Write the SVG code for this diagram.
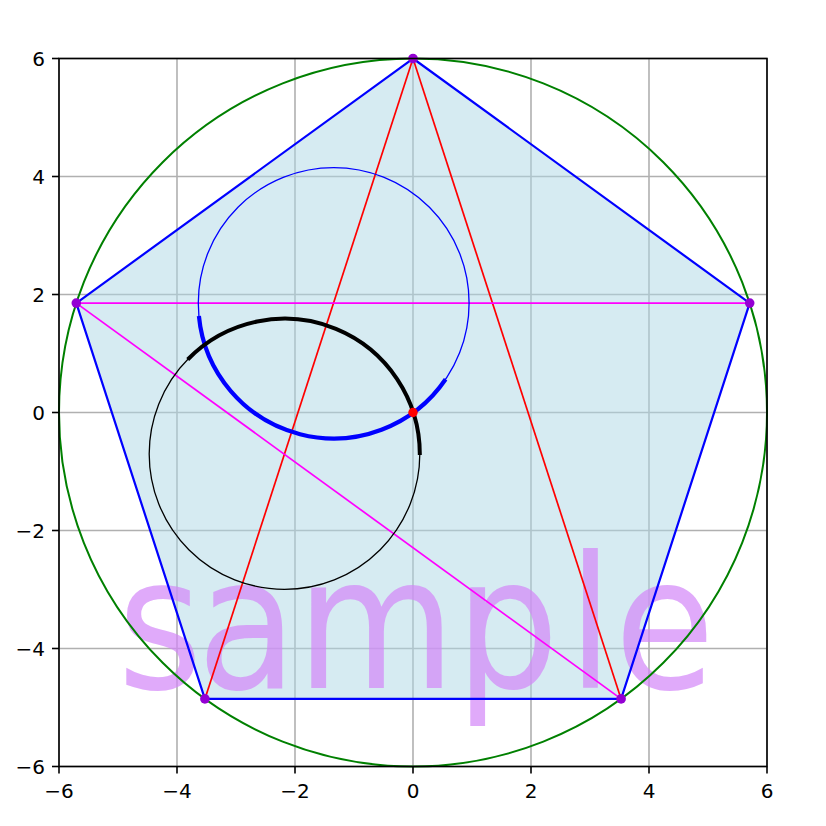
<svg xmlns="http://www.w3.org/2000/svg" width="826" height="826" viewBox="0 0 826 826">
<style>
.grid line{stroke:#b0b0b0;stroke-width:1.6}
.tick line{stroke:#000;stroke-width:1.6}
.lbl{font-family:"DejaVu Sans",sans-serif;font-size:20px;fill:#000}
.xl{text-anchor:middle}
.yl{text-anchor:end}
.dot{fill:#9400d3}
</style>
<rect x="0" y="0" width="826" height="826" fill="#fff"/>
<g id="grid" class="grid">
<line x1="59" y1="58.5" x2="59" y2="766.5"/>
<line x1="177" y1="58.5" x2="177" y2="766.5"/>
<line x1="295" y1="58.5" x2="295" y2="766.5"/>
<line x1="413" y1="58.5" x2="413" y2="766.5"/>
<line x1="531" y1="58.5" x2="531" y2="766.5"/>
<line x1="649" y1="58.5" x2="649" y2="766.5"/>
<line x1="767" y1="58.5" x2="767" y2="766.5"/>
<line x1="59" y1="58.5" x2="767" y2="58.5"/>
<line x1="59" y1="176.5" x2="767" y2="176.5"/>
<line x1="59" y1="294.5" x2="767" y2="294.5"/>
<line x1="59" y1="412.5" x2="767" y2="412.5"/>
<line x1="59" y1="530.5" x2="767" y2="530.5"/>
<line x1="59" y1="648.5" x2="767" y2="648.5"/>
<line x1="59" y1="766.5" x2="767" y2="766.5"/>
</g>
<g id="pentagon">
<polygon points="413,58.5 749.7,303.1 621.1,698.9 204.9,698.9 76.3,303.1" fill="#add8e6" fill-opacity="0.5" stroke="none"/>
</g>
<text id="watermark" transform="translate(0,687.5) scale(0.887,1)" x="132.5 222.1 334.3 513.5 640 692.8" y="0" font-family="DejaVu Sans, sans-serif" font-size="184" fill="#d386f8" fill-opacity="0.7">sample</text>
<g id="pentagon-edge">
<polygon points="413,58.5 749.7,303.1 621.1,698.9 204.9,698.9 76.3,303.1" fill="none" stroke="#0000ff" stroke-width="2.2" stroke-linejoin="miter"/>
</g>
<g id="circumcircle">
<circle cx="413" cy="412.5" r="354" fill="none" stroke="#008000" stroke-width="2"/>
</g>
<g id="connectors">
<line x1="413" y1="58.5" x2="204.9" y2="698.9" stroke="#ff0000" stroke-width="1.7"/>
<line x1="413" y1="58.5" x2="621.1" y2="698.9" stroke="#ff0000" stroke-width="1.7"/>
<line x1="76.3" y1="303.1" x2="749.7" y2="303.1" stroke="#ff00ff" stroke-width="1.7"/>
<line x1="76.3" y1="303.1" x2="621.1" y2="698.9" stroke="#ff00ff" stroke-width="1.7"/>
</g>
<g id="blue-circle">
<circle cx="333.7" cy="303" r="135.4" fill="none" stroke="#0000ff" stroke-width="1.3"/>
<path d="M198.9,316 A135.4,135.4 0 0 0 445.6,379.3" fill="none" stroke="#0000ff" stroke-width="4.2"/>
</g>
<g id="black-circle">
<circle cx="284.5" cy="454" r="135.3" fill="none" stroke="#000" stroke-width="1.3"/>
<path d="M187.7,359.5 A135.3,135.3 0 0 1 419.8,454.9" fill="none" stroke="#000" stroke-width="4"/>
</g>
<g id="vertices">
<circle class="dot" cx="413" cy="58.5" r="4.8"/>
<circle class="dot" cx="749.7" cy="303.1" r="4.8"/>
<circle class="dot" cx="621.1" cy="698.9" r="4.8"/>
<circle class="dot" cx="204.9" cy="698.9" r="4.8"/>
<circle class="dot" cx="76.3" cy="303.1" r="4.8"/>
</g>
<g id="origin">
<circle cx="413" cy="412.5" r="4.7" fill="#ff0000"/>
</g>
<g id="axes">
<rect x="59" y="58.5" width="708" height="708" fill="none" stroke="#000" stroke-width="1.6"/>
<g class="tick">
<line x1="59" y1="766.5" x2="59" y2="773.5"/>
<line x1="177" y1="766.5" x2="177" y2="773.5"/>
<line x1="295" y1="766.5" x2="295" y2="773.5"/>
<line x1="413" y1="766.5" x2="413" y2="773.5"/>
<line x1="531" y1="766.5" x2="531" y2="773.5"/>
<line x1="649" y1="766.5" x2="649" y2="773.5"/>
<line x1="767" y1="766.5" x2="767" y2="773.5"/>
<line x1="52" y1="58.5" x2="59" y2="58.5"/>
<line x1="52" y1="176.5" x2="59" y2="176.5"/>
<line x1="52" y1="294.5" x2="59" y2="294.5"/>
<line x1="52" y1="412.5" x2="59" y2="412.5"/>
<line x1="52" y1="530.5" x2="59" y2="530.5"/>
<line x1="52" y1="648.5" x2="59" y2="648.5"/>
<line x1="52" y1="766.5" x2="59" y2="766.5"/>
</g>
<g class="lbl xl">
<text x="59" y="797.5">−6</text>
<text x="177" y="797.5">−4</text>
<text x="295" y="797.5">−2</text>
<text x="413" y="797.5">0</text>
<text x="531" y="797.5">2</text>
<text x="649" y="797.5">4</text>
<text x="767" y="797.5">6</text>
</g>
<g class="lbl yl">
<text x="45" y="65.8">6</text>
<text x="45" y="183.8">4</text>
<text x="45" y="301.8">2</text>
<text x="45" y="419.8">0</text>
<text x="45" y="537.8">−2</text>
<text x="45" y="655.8">−4</text>
<text x="45" y="773.8">−6</text>
</g>
</g>
</svg>
